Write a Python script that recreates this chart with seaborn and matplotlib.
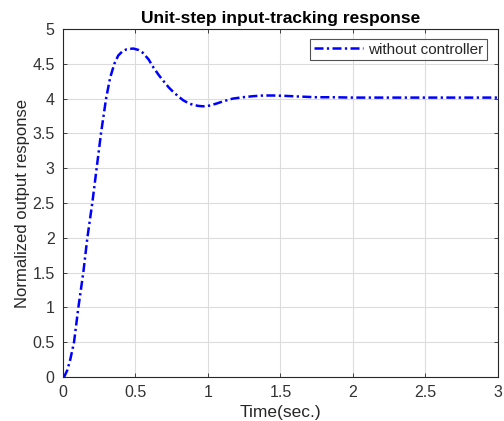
import matplotlib
matplotlib.use("Agg")
import matplotlib.pyplot as plt
import seaborn as sns
import pandas as pd

time_s = [0, 0.01, 0.03, 0.05, 0.076, 0.106, 0.14, 0.168, 0.202, 0.232, 0.262, 0.297,
          0.325, 0.354, 0.381, 0.41, 0.44, 0.485, 0.52, 0.55, 0.59, 0.623, 0.66, 0.692,
          0.73, 0.761, 0.80, 0.83, 0.87, 0.899, 0.935, 0.968, 1.01, 1.06, 1.11, 1.17,
          1.24, 1.31, 1.38, 1.45, 1.53, 1.63, 1.75, 1.86, 2.0, 2.2, 2.5, 2.8, 3.0]
response = [0, 0.01, 0.1, 0.25, 0.5, 1.0, 1.5, 2.0, 2.5, 3.0, 3.5, 4.0,
            4.30, 4.5, 4.62, 4.68, 4.71, 4.72, 4.70, 4.66, 4.565, 4.45, 4.34, 4.255,
            4.16, 4.095, 4.025, 3.975, 3.93, 3.91, 3.895, 3.89, 3.90, 3.93, 3.965, 4.00,
            4.02, 4.035, 4.045, 4.045, 4.04, 4.03, 4.02, 4.02, 4.015, 4.015, 4.015, 4.015, 4.015]
series_name = "without controller"
x_ticks = [0, 0.5, 1, 1.5, 2, 2.5, 3]
y_ticks = [0, 0.5, 1, 1.5, 2, 2.5, 3, 3.5, 4, 4.5, 5]

df = pd.DataFrame({"t": time_s, "y": response, "series": series_name})

sns.set_theme(style="white")
plt.rcParams["font.family"] = ["Liberation Sans", "DejaVu Sans"]

DASH = (0, (3.6, 1.35, 0.9, 1.35))

fig = plt.figure(figsize=(5.04, 4.21), dpi=100)
ax = fig.add_axes([0.125, 0.1045, 0.863, 0.8265])

sns.lineplot(data=df, x="t", y="y", hue="series", palette=["#0000ff"],
             linewidth=1.8, ax=ax, legend=True, sort=False)
for ln in ax.get_lines():
    ln.set_linestyle(DASH)

ax.set_xlim(0, 3)
ax.set_ylim(0, 5)
ax.set_xticks(x_ticks)
ax.set_xticklabels([f"{v:g}" for v in x_ticks])
ax.set_yticks(y_ticks)
ax.set_yticklabels([f"{v:g}" for v in y_ticks])
ax.grid(True, color="#dcdcdc", linewidth=0.8)
for s in ax.spines.values():
    s.set_visible(True)
    s.set_color("#262626")
    s.set_linewidth(0.8)
ax.tick_params(direction="in", length=3, width=0.6, color="#262626",
               labelsize=11.5, labelcolor="#333333", top=True, right=True,
               bottom=True, left=True)
ax.tick_params(axis="x", pad=6)
ax.tick_params(axis="y", pad=6)
ax.set_xlabel("Time(sec.)", fontsize=12.5, color="#262626", labelpad=3)
ax.set_ylabel("Normalized output response", fontsize=12, color="#262626", labelpad=2)
ax.set_title("Unit-step input-tracking response", fontsize=12.5, fontweight="bold",
             color="#000000", pad=4)

leg = ax.legend(loc="upper right", fontsize=11, frameon=True, fancybox=False,
                handlelength=3.2, borderpad=0.25, handletextpad=0.3,
                bbox_to_anchor=(0.985, 0.985), borderaxespad=0.3)
leg.get_frame().set_edgecolor("#262626")
leg.get_frame().set_linewidth(0.8)
for h in leg.get_lines():
    h.set_linestyle(DASH)

fig.savefig("out.png", dpi=100)
